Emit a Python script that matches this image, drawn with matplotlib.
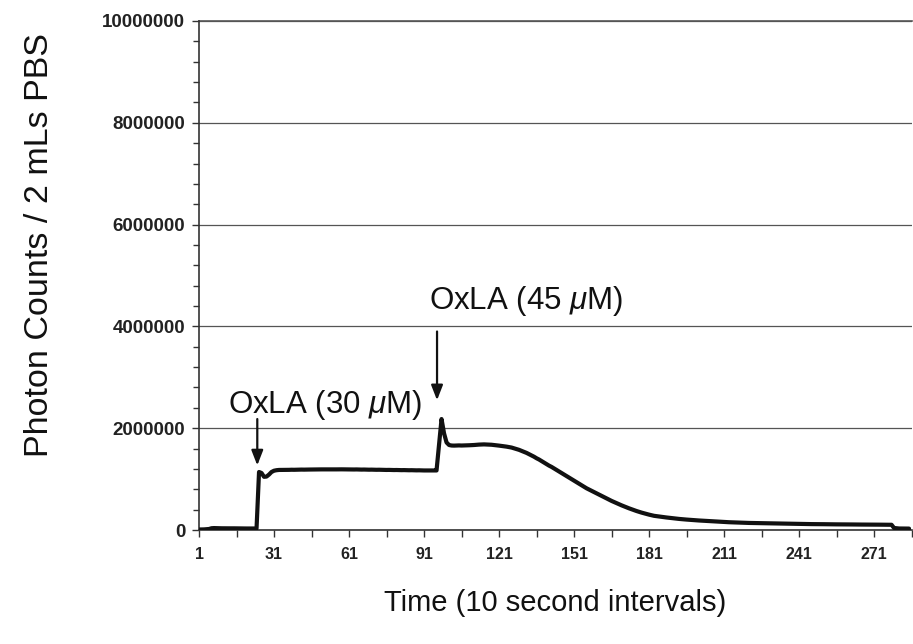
import numpy as np
import matplotlib
matplotlib.use("Agg")
import matplotlib.pyplot as plt
from matplotlib.ticker import FixedLocator, FixedFormatter

plt.rcParams["font.family"] = ["Liberation Sans", "DejaVu Sans"]
plt.rcParams["mathtext.fontset"] = "custom"
plt.rcParams["mathtext.rm"] = "Liberation Sans"
plt.rcParams["mathtext.it"] = "Liberation Sans:italic"

# ---------------------------------------------------------------------------
# data: photon counts (thousands) per 10 s interval, index 1..285
# ---------------------------------------------------------------------------
counts_k = [
    10, 10, 12, 15, 20, 35, 38, 36, 35, 34,
    33, 32, 33, 34, 33, 32, 32, 31, 31, 30,
    30, 30, 30, 30, 1140, 1120, 1045, 1050, 1090, 1140,
    1165, 1175, 1180, 1180, 1178, 1180, 1182, 1184, 1183, 1185,
    1186, 1187, 1186, 1188, 1188, 1189, 1190, 1189, 1190, 1191,
    1190, 1191, 1192, 1191, 1190, 1191, 1192, 1192, 1191, 1190,
    1191, 1190, 1189, 1190, 1188, 1187, 1188, 1186, 1185, 1186,
    1184, 1183, 1184, 1182, 1181, 1180, 1181, 1179, 1178, 1179,
    1177, 1176, 1177, 1175, 1174, 1175, 1173, 1172, 1173, 1171,
    1170, 1171, 1170, 1169, 1170, 1170, 1680, 2180, 1900, 1720,
    1670, 1660, 1658, 1660, 1662, 1660, 1661, 1663, 1665, 1667,
    1670, 1675, 1678, 1680, 1682, 1680, 1678, 1675, 1670, 1665,
    1658, 1652, 1645, 1638, 1630, 1620, 1605, 1590, 1575, 1555,
    1535, 1515, 1490, 1465, 1440, 1410, 1385, 1355, 1325, 1295,
    1265, 1240, 1210, 1180, 1150, 1120, 1090, 1060, 1030, 1000,
    970, 940, 910, 880, 850, 820, 795, 770, 745, 720,
    695, 670, 645, 620, 595, 572, 550, 528, 506, 485,
    465, 445, 426, 408, 390, 373, 357, 342, 328, 315,
    302, 290, 279, 272, 265, 258, 252, 246, 240, 234,
    228, 223, 218, 213, 209, 205, 201, 197, 193, 190,
    187, 184, 181, 178, 175, 172, 169, 166, 163, 160,
    157, 155, 153, 151, 149, 147, 145, 143, 141, 140,
    139, 138, 137, 136, 135, 134, 133, 132, 131, 130,
    129, 128, 127, 126, 125, 124, 123, 122, 121, 120,
    120, 119, 118, 118, 117, 116, 116, 115, 115, 114,
    114, 113, 113, 112, 112, 111, 111, 110, 110, 110,
    109, 109, 108, 108, 108, 107, 107, 106, 106, 106,
    105, 105, 105, 104, 104, 104, 103, 103, 40, 35,
    30, 30, 28, 28, 28,
]
time_idx = list(range(1, len(counts_k) + 1))

x_major = [1, 31, 61, 91, 121, 151, 181, 211, 241, 271]
x_minor = [16, 46, 76, 106, 136, 166, 196, 226, 256, 286]
x_labels = ["1", "31", "61", "91", "121", "151", "181", "211", "241", "271"]

y_major = [0, 2000000, 4000000, 6000000, 8000000, 10000000]
y_labels = ["0", "2000000", "4000000", "6000000", "8000000", "10000000"]
y_minor = [v for v in range(400000, 10000000, 400000) if v % 2000000]

# additions: (label, text x, text y, arrow x, arrow start y, arrow tip y)
additions = [
    ("OxLA (30 $\\mu$M)", 12.6, 2450000, 24.3, 2180000, 1270000),
    ("OxLA (45 $\\mu$M)", 93.0, 4500000, 96.2, 3900000, 2550000),
]

# ---------------------------------------------------------------------------
fig = plt.figure(figsize=(9.13, 6.44), dpi=100)
ax = fig.add_axes([0.218, 0.177, 0.7804, 0.7904])

y = np.array(counts_k) * 1000
ax.plot(time_idx, y, color="#111111", lw=3.0, solid_joinstyle="round",
        solid_capstyle="round", zorder=3)

ax.set_xlim(1, 286)
ax.set_ylim(0, 10000000)

ax.xaxis.set_major_locator(FixedLocator(x_major))
ax.xaxis.set_major_formatter(FixedFormatter(x_labels))
ax.xaxis.set_minor_locator(FixedLocator(x_minor))
ax.yaxis.set_major_locator(FixedLocator(y_major))
ax.yaxis.set_major_formatter(FixedFormatter(y_labels))
ax.yaxis.set_minor_locator(FixedLocator(y_minor))

ax.tick_params(axis="y", which="major", direction="out", length=5, width=1,
               labelsize=13.5, pad=5, color="#333")
ax.tick_params(axis="y", which="minor", direction="out", length=4, width=1,
               color="#333")
ax.tick_params(axis="x", which="both", direction="out", length=5, width=1,
               labelsize=11.5, pad=7, color="#333")
for lab in ax.get_yticklabels() + ax.get_xticklabels():
    lab.set_fontweight("bold")
    lab.set_color("#222")

ax.grid(axis="y", which="major", color="#555", lw=0.9)
ax.axhline(10000000, color="#555", lw=1.2, clip_on=False)
for side in ("top", "right"):
    ax.spines[side].set_visible(False)
for side in ("left", "bottom"):
    ax.spines[side].set_color("#333")
    ax.spines[side].set_linewidth(1.2)

for label, tx, ty, axx, ay0, ay1 in additions:
    ax.text(tx, ty, label, fontsize=22.5, va="center", ha="left", color="#111")
    ax.annotate("", xy=(axx, ay1), xytext=(axx, ay0),
                arrowprops=dict(arrowstyle="-|>,head_length=0.9,head_width=0.35",
                                color="#111", lw=1.6, shrinkA=0, shrinkB=0),
                zorder=4)

fig.text(40 / 913, 1 - 245 / 644, "Photon Counts / 2 mLs PBS", rotation=90,
         fontsize=24.5, ha="center", va="center", color="#111")
fig.text(555 / 913, 1 - 603 / 644, "Time (10 second intervals)",
         fontsize=21, ha="center", va="center", color="#111")

fig.savefig("out.png", dpi=100)
